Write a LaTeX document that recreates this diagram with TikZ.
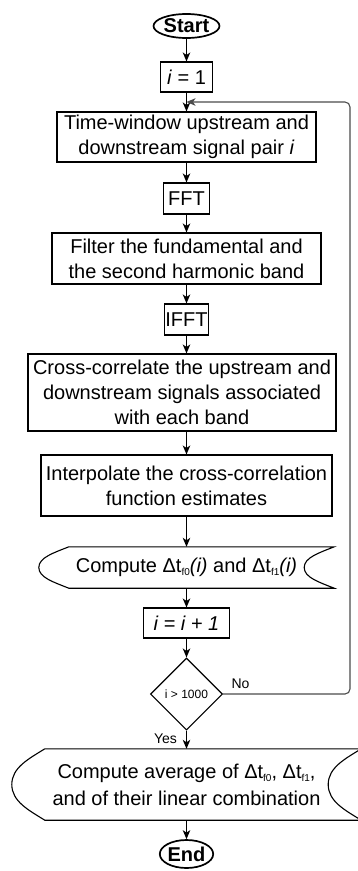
\documentclass[tikz,border=0pt]{standalone}
\usepackage{fontspec}
\setmainfont{Liberation Sans}
\usetikzlibrary{shapes.geometric,arrows.meta,calc}
% small lowered subscript for the time-delay symbols
\newcommand{\lowsub}[1]{\raisebox{-0.3ex}{\fontsize{10}{10}\selectfont #1}}
\begin{document}
\begin{tikzpicture}[x=1pt,y=-1pt,
  every node/.style={font=\fontsize{20}{25}\selectfont, inner sep=0pt},
  box/.style={draw, line width=1.1pt, rectangle, align=center},
  term/.style={draw, ellipse, line width=1.7pt, font=\fontsize{20}{25}\selectfont\bfseries},
  dispnode/.style={align=center},
  outline/.style={line width=1.1pt},
  flow/.style={line width=1.1pt, -{Stealth[length=9pt,width=7.5pt,inset=2.5pt]}},
  loopline/.style={flow, draw=black!70, rounded corners=5pt},
  lbl/.style={font=\fontsize{14}{14}\selectfont}
]
\useasboundingbox (0,0) rectangle (358,871);

% process steps
\node[term, minimum width=66pt, minimum height=24pt] (start) at (186.5,26) {Start};
\node[box, minimum width=52pt, minimum height=30pt] (i1) at (186.5,77) {\textit{i} = 1};
\node[box, minimum width=259pt, minimum height=50pt] (tw) at (186.5,137)
  {Time-window upstream and\\downstream signal pair \textit{i}};
\node[box, minimum width=46pt, minimum height=31pt] (fft) at (186.5,198.5) {FFT};
\node[box, minimum width=269pt, minimum height=51pt] (filt) at (186.5,258.5)
  {Filter the fundamental and\\the second harmonic band};
\node[box, minimum width=44pt, minimum height=31pt] (ifft) at (186.5,319.5) {IFFT};
\node[box, minimum width=308pt, minimum height=77pt] (xc) at (182,392.5)
  {Cross-correlate the upstream and\\downstream signals associated\\with each band};
\node[box, minimum width=291pt, minimum height=61pt] (interp) at (186.5,485.5)
  {Interpolate the cross-correlation\\function estimates};
\node[dispnode, minimum width=295pt, minimum height=41pt] (cdt) at (186.5,567.5)
  {Compute Δt\lowsub{f0}\textit{(i)} and Δt\lowsub{f1}\textit{(i)}};
\node[box, minimum width=86pt, minimum height=30pt, font=\fontsize{20}{25}\selectfont\itshape] (inc) at (186.5,623)
  {i = i + 1};
\node[draw, diamond, line width=1.1pt, minimum width=72pt, minimum height=72pt,
  font=\fontsize{12}{14}\selectfont] (dec) at (186.5,694) {i > 1000};
\node[dispnode, minimum width=349pt, minimum height=71pt, font=\fontsize{20}{27}\selectfont] (avg) at (186.5,784.5)
  {Compute average of Δt\lowsub{f0}, Δt\lowsub{f1},\\and of their linear combination};
\node[term, minimum width=53pt, minimum height=28pt] (end) at (186.5,854) {End};

% display-shaped outlines
\draw[outline] ([xshift=30pt]cdt.north west) -- (cdt.north east)
  .. controls +(-15,6) and +(0,-10) .. ([xshift=-30pt]cdt.east)
  .. controls +(0,10) and +(-15,-6) .. (cdt.south east)
  -- ([xshift=30pt]cdt.south west)
  .. controls +(-15,-6) and +(0,10) .. (cdt.west)
  .. controls +(0,-10) and +(-15,6) .. ([xshift=30pt]cdt.north west) -- cycle;
\draw[outline] ([xshift=33pt]avg.north west) -- (avg.north east)
  .. controls +(-16,10) and +(0,-17) .. ([xshift=-33pt]avg.east)
  .. controls +(0,17) and +(-16,-10) .. (avg.south east)
  -- ([xshift=33pt]avg.south west)
  .. controls +(-16,-10) and +(0,17) .. (avg.west)
  .. controls +(0,-17) and +(-16,10) .. ([xshift=33pt]avg.north west) -- cycle;

% connectors
\draw[flow] (start) -- (i1);
\draw[flow] (i1) -- (tw);
\draw[flow] (tw) -- (fft);
\draw[flow] (fft) -- (filt);
\draw[flow] (filt) -- (ifft);
\draw[flow] (ifft) -- (ifft.south |- xc.north);
\draw[flow] (xc.south -| ifft.south) -- (interp);
\draw[flow] (interp) -- (cdt);
\draw[flow] (cdt) -- (inc);
\draw[flow] (inc) -- (dec);
\draw[flow] (dec) -- node[lbl, anchor=east, xshift=-9pt, yshift=1pt] {Yes} (avg);
\draw[flow] (avg) -- (end);

% loop back to the next signal pair
\coordinate (join) at ($(i1.south)!0.5!(tw.north)$);
\coordinate (rt) at (350,0);
\draw[loopline] (dec.east) -- node[lbl, pos=0, anchor=base west, xshift=8pt, yshift=6pt, text=black] {No}
  (dec.east -| rt) -- (rt |- join) -- (join);
\end{tikzpicture}
\end{document}
